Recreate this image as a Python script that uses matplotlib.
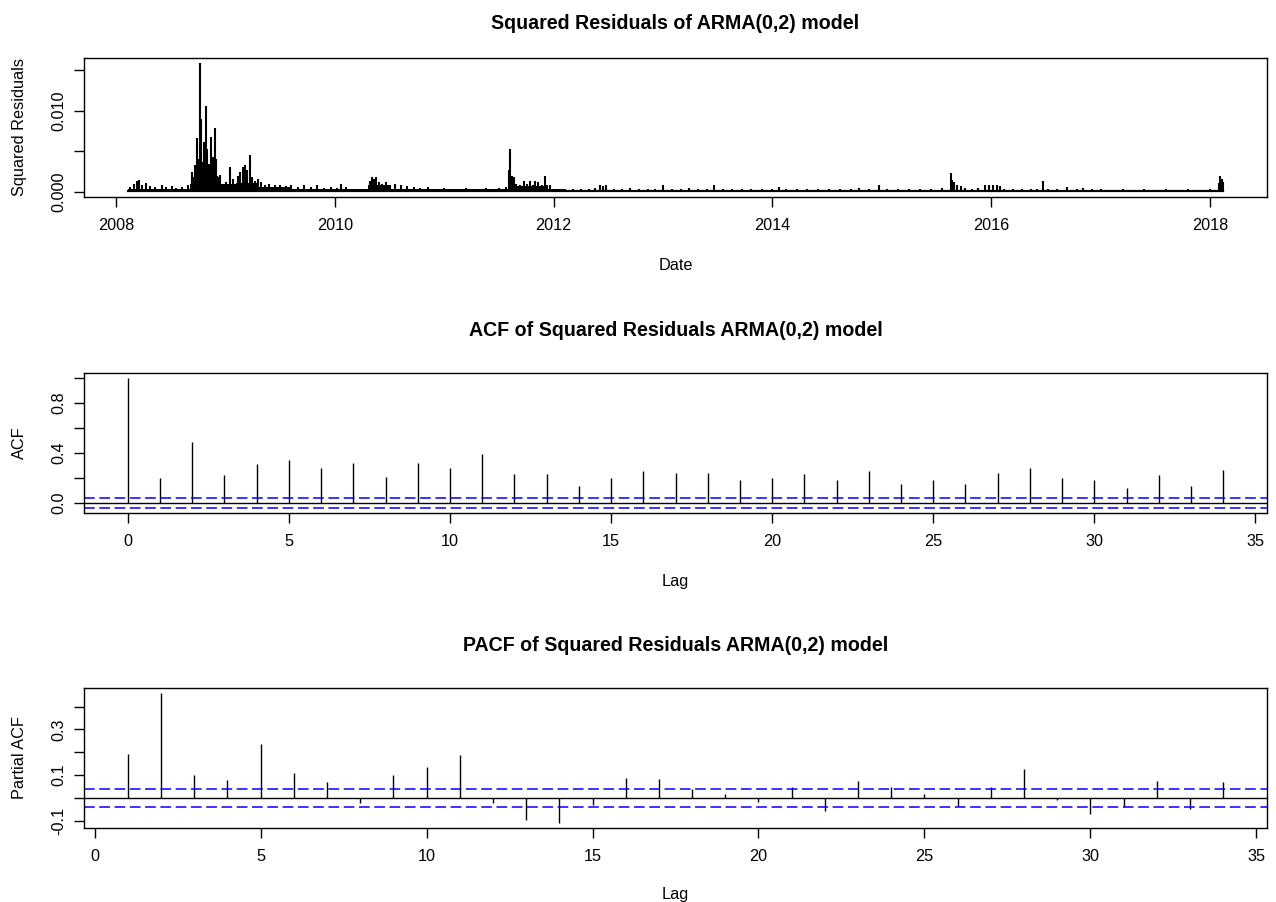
import matplotlib
matplotlib.use("Agg")
import matplotlib.pyplot as plt
import numpy as np

plt.rcParams['font.family'] = ['Liberation Sans', 'DejaVu Sans']

# squared residuals (decimal year, value)
resid_year = [2008.13, 2008.16, 2008.19, 2008.21, 2008.24, 2008.27, 2008.31, 2008.36, 2008.42, 2008.46,
              2008.51, 2008.55, 2008.60, 2008.66, 2008.69, 2008.70, 2008.72, 2008.735, 2008.75, 2008.764,
              2008.775, 2008.79, 2008.80, 2008.82, 2008.835, 2008.85, 2008.87, 2008.885, 2008.90, 2008.91,
              2008.925, 2008.95, 2008.97, 2009.00, 2009.04, 2009.07, 2009.11, 2009.13, 2009.16, 2009.18,
              2009.20, 2009.22, 2009.24, 2009.27, 2009.30, 2009.32, 2009.36, 2009.40, 2009.45, 2009.50,
              2009.55, 2009.60, 2009.66, 2009.72, 2009.78, 2009.84, 2009.90, 2009.96, 2010.02, 2010.06,
              2010.10, 2010.16, 2010.22, 2010.28, 2010.32, 2010.34, 2010.36, 2010.38, 2010.40, 2010.43,
              2010.47, 2010.50, 2010.55, 2010.60, 2010.66, 2010.72, 2010.78, 2010.85, 2010.92, 2011.00,
              2011.06, 2011.12, 2011.20, 2011.26, 2011.32, 2011.38, 2011.44, 2011.50, 2011.56, 2011.595,
              2011.605, 2011.62, 2011.64, 2011.66, 2011.69, 2011.73, 2011.76, 2011.78, 2011.81, 2011.83,
              2011.86, 2011.89, 2011.92, 2011.94, 2011.97, 2012.02, 2012.10, 2012.18, 2012.25, 2012.32,
              2012.38, 2012.42, 2012.45, 2012.48, 2012.55, 2012.62, 2012.70, 2012.78, 2012.86, 2012.93,
              2013.00, 2013.08, 2013.16, 2013.24, 2013.32, 2013.40, 2013.47, 2013.55, 2013.63, 2013.72,
              2013.80, 2013.90, 2014.00, 2014.06, 2014.12, 2014.22, 2014.32, 2014.42, 2014.52, 2014.62,
              2014.72, 2014.79, 2014.88, 2014.97, 2015.05, 2015.15, 2015.25, 2015.35, 2015.45, 2015.55,
              2015.63, 2015.645, 2015.66, 2015.69, 2015.72, 2015.76, 2015.82, 2015.88, 2015.94, 2015.98,
              2016.02, 2016.05, 2016.08, 2016.12, 2016.20, 2016.28, 2016.36, 2016.42, 2016.47, 2016.52,
              2016.60, 2016.69, 2016.78, 2016.84, 2016.92, 2017.00, 2017.10, 2017.20, 2017.30, 2017.40,
              2017.50, 2017.60, 2017.70, 2017.80, 2017.90, 2018.00, 2018.08, 2018.095, 2018.105, 2018.115]
resid_sq = [0.0006, 0.0010, 0.0013, 0.0015, 0.0009, 0.0011, 0.0007, 0.0006, 0.0008, 0.0006,
            0.0007, 0.0005, 0.0006, 0.0009, 0.0024, 0.0018, 0.0033, 0.0066, 0.0040, 0.0159,
            0.0090, 0.0037, 0.0061, 0.0106, 0.0053, 0.0035, 0.0068, 0.0043, 0.0079, 0.0041,
            0.0020, 0.0021, 0.0010, 0.0012, 0.0031, 0.0016, 0.0020, 0.0025, 0.0031, 0.0033,
            0.0027, 0.0045, 0.0018, 0.0014, 0.0016, 0.0012, 0.0009, 0.0010, 0.0008, 0.0009,
            0.0007, 0.0009, 0.0006, 0.0008, 0.0006, 0.0009, 0.0005, 0.0006, 0.0005, 0.0010,
            0.0006, 0.0003, 0.0003, 0.0004, 0.0014, 0.0018, 0.0016, 0.0018, 0.0012, 0.0010,
            0.0012, 0.0009, 0.0010, 0.0008, 0.0007, 0.0006, 0.0005, 0.0006, 0.0004, 0.0005,
            0.0003, 0.0004, 0.0005, 0.0004, 0.0003, 0.0005, 0.0004, 0.0005, 0.0006, 0.0027,
            0.0053, 0.0020, 0.0018, 0.0010, 0.0009, 0.0014, 0.0010, 0.0013, 0.0009, 0.0013,
            0.0012, 0.0009, 0.0020, 0.0008, 0.0009, 0.0004, 0.0003, 0.0003, 0.0004, 0.0003,
            0.0005, 0.0008, 0.0007, 0.0008, 0.0004, 0.0004, 0.0005, 0.0003, 0.0004, 0.0004,
            0.0009, 0.0003, 0.0004, 0.0005, 0.0003, 0.0004, 0.0009, 0.0003, 0.0004, 0.0003,
            0.0004, 0.0003, 0.0004, 0.0006, 0.0003, 0.0004, 0.0003, 0.0004, 0.0003, 0.0004,
            0.0003, 0.0005, 0.0003, 0.0008, 0.0004, 0.0003, 0.0004, 0.0003, 0.0004, 0.0005,
            0.0023, 0.0015, 0.0012, 0.0008, 0.0007, 0.0005, 0.0004, 0.0005, 0.0008, 0.0009,
            0.0008, 0.0009, 0.0007, 0.0004, 0.0003, 0.0004, 0.0003, 0.0004, 0.0014, 0.0003,
            0.0003, 0.0006, 0.0003, 0.0005, 0.0003, 0.0003, 0.0002, 0.0003, 0.0002, 0.0003,
            0.0002, 0.0003, 0.0002, 0.0003, 0.0002, 0.0003, 0.0011, 0.0020, 0.0016, 0.0012]

# height of the dense day-to-day band under the spikes
band_year = [2008.107, 2008.30, 2008.68, 2008.72, 2008.95, 2009.10, 2009.30, 2009.60,
             2010.30, 2010.50, 2011.58, 2011.95, 2012.10, 2018.08, 2018.12]
band_level = [0.0004, 0.0003, 0.0010, 0.0018, 0.0010, 0.0011, 0.0006, 0.0004,
              0.0008, 0.0003, 0.0007, 0.0003, 0.00022, 0.0008, 0.0008]

acf_lag = list(range(0, 35))
acf_vals = [1.0, 0.196, 0.489, 0.223, 0.309, 0.341, 0.282, 0.319, 0.209, 0.319,
            0.282, 0.392, 0.234, 0.234, 0.137, 0.196, 0.258, 0.244, 0.244, 0.185,
            0.196, 0.234, 0.185, 0.258, 0.148, 0.185, 0.148, 0.244, 0.282, 0.196,
            0.185, 0.123, 0.223, 0.137, 0.268]

pacf_lag = list(range(1, 35))
pacf_vals = [0.194, 0.459, 0.101, 0.076, 0.234, 0.107, 0.069, -0.025, 0.101, 0.135,
             0.188, -0.025, -0.096, -0.110, -0.031, 0.088, 0.081, 0.040, 0.015, -0.018,
             0.047, -0.057, 0.075, 0.047, 0.015, -0.037, 0.047, 0.128, -0.010, -0.071,
             -0.040, 0.075, -0.051, 0.068]

conf_lim = 0.039

W, H = 1276, 902
fig = plt.figure(figsize=(W / 100, H / 100), dpi=100)


def add_panel(top, bottom):
    ax = fig.add_axes([84 / W, 1 - bottom / H, (1267 - 84) / W, (bottom - top) / H])
    for s in ax.spines.values():
        s.set_linewidth(1.0)
    ax.tick_params(direction='out', length=7.5, width=1.0, labelsize=11.7)
    ax.tick_params(axis='x', pad=7.5)
    ax.tick_params(axis='y', pad=5.5)
    return ax


def rot_ylabels(ax, ticks, labels):
    ax.set_yticks(ticks)
    ax.set_yticklabels(labels, rotation=90, va='center')


def r_lim(lo, hi):
    ext = (hi - lo) * 0.04
    return lo - ext, hi + ext


cx = (84 + 1267) / 2 / W

# squared residuals
ax1 = add_panel(58, 197)
ax1.fill_between(band_year, 0, band_level, step='post', color='black', linewidth=0)
ax1.plot([band_year[0], band_year[-1]], [0.00012, 0.00012], color='black', linewidth=1.6)
ax1.vlines(resid_year, 0, resid_sq, color='black', linewidth=1.5)
ax1.set_xlim(*r_lim(band_year[0], band_year[-1]))
ax1.set_ylim(*r_lim(0, max(resid_sq)))
ax1.set_xticks([2008, 2010, 2012, 2014, 2016, 2018])
ax1.set_xticklabels(['2008', '2010', '2012', '2014', '2016', '2018'])
rot_ylabels(ax1, [0, 0.005, 0.010, 0.015], ['0.000', '', '0.010', ''])
fig.text(cx, 1 - 29.3 / H, 'Squared Residuals of ARMA(0,2) model', ha='center', va='baseline',
         fontsize=14.1, fontweight='bold')
fig.text(cx, 1 - 266 / H, 'Date', ha='center', va='center', fontsize=11.7)
fig.text(19.3 / W, 1 - 127.5 / H, 'Squared Residuals', ha='center', va='center', rotation=90, fontsize=11.7)

# ACF
ax2 = add_panel(373, 513)
ax2.vlines(acf_lag, 0, acf_vals, color='black', linewidth=1.0)
ax2.axhline(0, color='black', linewidth=1.0)
for c in (conf_lim, -conf_lim):
    ax2.axhline(c, color='blue', linewidth=1.1, linestyle=(0, (7, 3)))
ax2.set_xlim(*r_lim(acf_lag[0], acf_lag[-1]))
ax2.set_ylim(*r_lim(-conf_lim, max(acf_vals)))
ax2.set_xticks(range(0, 36, 5))
rot_ylabels(ax2, [0, 0.2, 0.4, 0.6, 0.8, 1.0], ['0.0', '', '0.4', '', '0.8', ''])
fig.text(cx, 1 - 336 / H, 'ACF of Squared Residuals ARMA(0,2) model', ha='center', va='baseline',
         fontsize=14.1, fontweight='bold')
fig.text(cx, 1 - 581.5 / H, 'Lag', ha='center', va='center', fontsize=11.7)
fig.text(19.3 / W, 1 - 443 / H, 'ACF', ha='center', va='center', rotation=90, fontsize=11.7)

# PACF
ax3 = add_panel(688, 828)
ax3.vlines(pacf_lag, 0, pacf_vals, color='black', linewidth=1.0)
ax3.axhline(0, color='black', linewidth=1.0)
for c in (conf_lim, -conf_lim):
    ax3.axhline(c, color='blue', linewidth=1.1, linestyle=(0, (7, 3)))
ax3.set_xlim(*r_lim(pacf_lag[0], pacf_lag[-1]))
ax3.set_ylim(*r_lim(min(pacf_vals), max(pacf_vals)))
ax3.set_xticks(range(0, 36, 5))
rot_ylabels(ax3, [-0.1, 0.0, 0.1, 0.2, 0.3, 0.4], ['-0.1', '', '0.1', '', '0.3', ''])
fig.text(cx, 1 - 651 / H, 'PACF of Squared Residuals ARMA(0,2) model', ha='center', va='baseline',
         fontsize=14.1, fontweight='bold')
fig.text(cx, 1 - 895 / H, 'Lag', ha='center', va='center', fontsize=11.7)
fig.text(19.3 / W, 1 - 758 / H, 'Partial ACF', ha='center', va='center', rotation=90, fontsize=11.7)

fig.savefig('out.png', dpi=100)
